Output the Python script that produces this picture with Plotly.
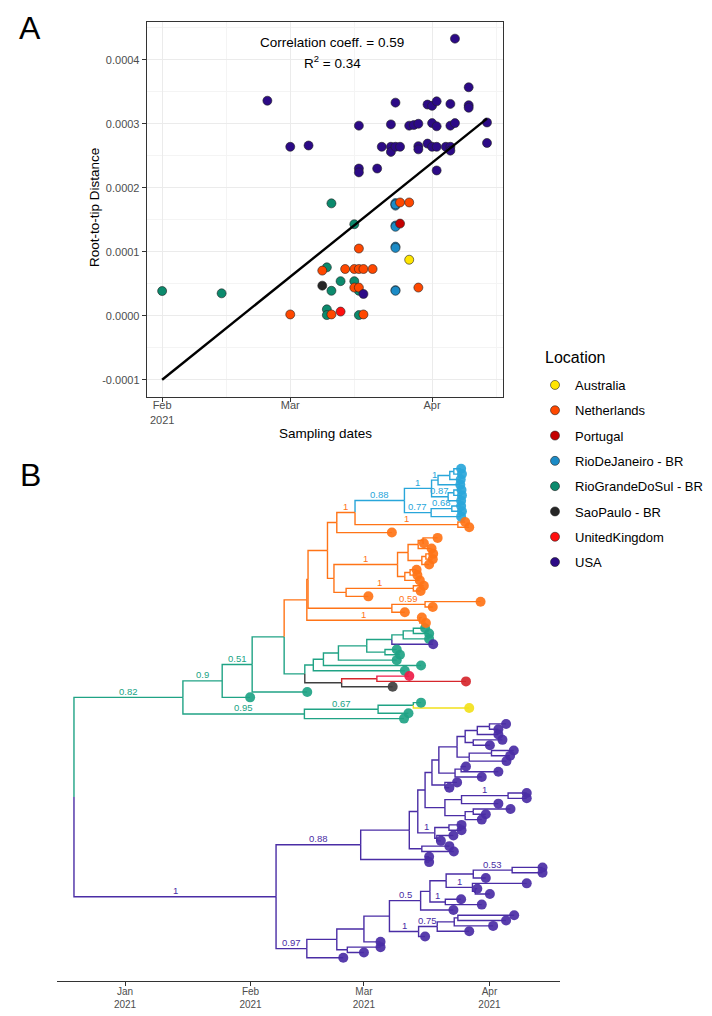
import datetime as dt
import plotly.graph_objects as go

# ---------------- Panel A: root-to-tip regression data ----------------
loc_names = ["Australia", "Netherlands", "Portugal", "RioDeJaneiro - BR",
             "RioGrandeDoSul - BR", "SaoPaulo - BR", "UnitedKingdom", "USA"]
loc_codes = ["A", "N", "P", "R", "G", "S", "K", "U"]
point_colors = ["#FFE500", "#FF4800", "#C40000", "#1B8BC6",
                "#0C8A6D", "#262626", "#FF0F0F", "#2C0A86"]
tree_colors = ["#F2E11C", "#FF7417", "#D6262C", "#29A6DA",
               "#20A385", "#3F3F3F", "#EE1C48", "#4A2DA5"]

australia_dates = ["2021-03-27"]
australia_dist = [0.0000875]
netherlands_dates = ["2021-03-01", "2021-03-08", "2021-03-10", "2021-03-13", "2021-03-15",
                     "2021-03-15", "2021-03-16", "2021-03-16", "2021-03-16", "2021-03-17",
                     "2021-03-17", "2021-03-19", "2021-03-25", "2021-03-27", "2021-03-29"]
netherlands_dist = [0.000002, 0.0000705, 0.000002, 0.000073, 0.000073,
                    0.000044, 0.000105, 0.000073, 0.000044, 0.000073,
                    0.000002, 0.000073, 0.000177, 0.000177, 0.000044]
portugal_dates = ["2021-03-25"]
portugal_dist = [0.000144]
riodejaneiro_dates = ["2021-03-24"] * 10
riodejaneiro_dist = [0.000176, 0.000174, 0.000172, 0.000141, 0.000139,
                     0.000108, 0.000106, 0.000040, 0.000039, 0.000174]
riograndedosul_dates = ["2021-02-01", "2021-02-14", "2021-03-10", "2021-03-15", "2021-03-09",
                        "2021-03-10", "2021-03-12", "2021-03-15", "2021-03-16", "2021-03-09",
                        "2021-03-09", "2021-03-16"]
riograndedosul_dist = [0.0000386, 0.000035, 0.0001756, 0.000143, 0.0000756,
                       0.000039, 0.000054, 0.000054, 0.000039, 0.00001,
                       0.000001, 0.000001]
saopaulo_dates = ["2021-03-08"]
saopaulo_dist = [0.000047]
uk_dates = ["2021-03-12"]
uk_dist = [0.0000065]
usa_dates = ["2021-02-24", "2021-03-01", "2021-03-05", "2021-03-16", "2021-03-16", "2021-03-16",
             "2021-03-17", "2021-03-20", "2021-03-21", "2021-03-23", "2021-03-23", "2021-03-23",
             "2021-03-24", "2021-03-24", "2021-03-25", "2021-03-27", "2021-03-28", "2021-03-29",
             "2021-03-29", "2021-03-29", "2021-03-31", "2021-03-31", "2021-04-01", "2021-04-01",
             "2021-04-01", "2021-04-02", "2021-04-02", "2021-04-02", "2021-04-02", "2021-04-04",
             "2021-04-05", "2021-04-05", "2021-04-05", "2021-04-05", "2021-04-06", "2021-04-06",
             "2021-04-09", "2021-04-09", "2021-04-09", "2021-04-13", "2021-04-13"]
usa_dist = [0.000336, 0.000264, 0.000266, 0.000297, 0.000230, 0.000224,
            0.000034, 0.000230, 0.000264, 0.000264, 0.000256, 0.000299,
            0.000333, 0.000264, 0.000264, 0.000297, 0.000298, 0.000300,
            0.000265, 0.000260, 0.000330, 0.000269, 0.000301, 0.000328,
            0.000264, 0.000335, 0.000296, 0.000264, 0.000227, 0.000264,
            0.000331, 0.000297, 0.000264, 0.000258, 0.000433, 0.000301,
            0.000357, 0.000329, 0.000325, 0.000302, 0.000270]

# regression line end points
line_dates = ["2021-02-01", "2021-04-13"]
line_dist = [-0.0001, 0.000308]
corr_text = "Correlation coeff. = 0.59"
r2_text = "R<sup>2</sup> = 0.34"

y_tickvals = [-0.0001, 0.0, 0.0001, 0.0002, 0.0003, 0.0004]
y_ticktext = ["-0.0001", "0.0000", "0.0001", "0.0002", "0.0003", "0.0004"]

# ---------------- Panel B: time-scaled tree ----------------
# node label = LOCATIONCODE@days-since-2021-01-01[#support]
B1a = "(((R@83.0,R@83.2)R@81.2,R@82.9)R@80.2,R@82.8)R@77.3#1"
B1b = "((R@83.1,R@83.2)R@81.2,R@83.0)R@79.8#0.87"
B2 = "((R@83.0,R@83.2)R@80.7#0.68,R@83.0)R@75.6#0.77"
B0 = f"(({B1a},{B1b})R@75.7#1,{B2})R@69.0#0.88"
NP = "(N@84.0,N@85.0)N@82.2#1"
N355 = f"({B0},{NP})N@56.8#1"
N337 = f"({N355},N@65.9)N@52.3"
Nu = "(((N@77.2,N@73.8)N@73.6,N@75.7)N@72.4,((N@76.1,N@76.0)N@74.3,N@75.1)N@73.3)N@69.9"
Nl = "((N@72.0,N@72.2)N@70.4,N@72.8)N@69.1"
N398 = f"({Nu},{Nl})N@67.3#1"
N346 = "((N@73.8,N@73.0)N@71.2#1,N@60.1)N@54.6"
N334 = f"({N398},{N346})N@51.6"
Uc = f"({N337},{N334})N@50.0"
N392 = "((N@87.8,N@76.0)N@74.1#0.59,N@69.1)N@65.9"
C1 = f"({Uc},{N392})N@45.2"
N1c = "(N@73.3,N@74.3)N@72.8#1"
OR = f"({C1},{N1c})N@44.9"
T7 = "(G@74.1,G@75.1)G@71.2"
T6 = f"({T7},G@75.1)G@68.7"
T5 = f"({T6},U@76.1)G@65.9"
T8 = "(G@67.1,G@67.9)G@64.2"
T4 = f"({T5},{T8})G@59.7"
T3 = f"({T4},G@67.1)G@52.7"
T2 = f"({T3},G@73.1)G@49.0"
T1 = f"({T2},G@69.1)G@46.5"
T9 = "((K@70.2,P@84.2)P@62.2,S@66.1)S@53.5"
TT = f"({T1},{T9})G@44.4"
N284 = f"({OR},{TT})G@39.3"
N51 = f"({N284},G@45.0)G@31.4#0.51"
N9 = f"({N51},G@30.9)G@24.0#0.9"
N67 = "((G@73.1,A@85.0)G@71.2,G@70.0)G@62.5#0.67"
N95 = f"({N67},G@68.9)G@44.3#0.95"
TOP = f"({N9},{N95})G@14.3#0.82"

A1h = "((((U@94.1,U@92.2)U@90.0,U@92.2)U@87.0,(U@93.2,U@90.1)U@86.0)U@84.0,((U@96.0,U@95.1)U@90.5,U@94.2)U@85.0)U@82.0"
A1i = "((U@84.2,U@92.2)U@83.0,U@88.1)U@81.5"
A1g = f"({A1h},{A1i})U@77.5"
A1c = f"({A1g},(U@82.0,U@80.1)U@79.0)U@75.8"
A1d = "(((U@99.2,U@99.2)U@94.6#1,U@92.2)U@83.1,((U@95.2,U@89.1)U@86.0,U@88.1)U@84.0)U@79.0"
A1a = f"({A1c},{A1d})U@74.1"
A1b = "((U@83.1,U@83.1)U@80.0,(U@81.1,U@78.0)U@77.0)U@76.5#1"
A1 = f"({A1a},{A1b})U@72.3"
A2 = "(U@80.1,U@81.2)U@73.3"
Aa = f"({A1},{A2})U@70.2"
Bp = "(U@75.1,U@75.1)U@74.3"
U88 = f"({Aa},{Bp})U@58.2#0.88"
N473 = "((U@103.1,U@103.1)U@95.6#0.53,U@89.1)U@86.0"
N1x = "(U@99.2,(U@87.0,U@90.1)U@86.5)U@85.8#1"
N446 = f"({N473},{N1x})U@79.3"
N1a = "(U@83.0,U@88.1)U@79.1#1"
N430 = f"({N446},{N1a})U@75.3"
N05 = f"({N430},U@81.1)U@73.0#0.5"
N075 = "(((U@96.1,U@94.1)U@82.2,U@90.9)U@81.3,U@85.0)U@77.1#0.75"
N1b = f"({N075},U@74.1)U@72.5#1"
Nd = f"({N05},{N1b})U@65.3"
Nb = f"({Nd},U@63.1)U@59.0"
Nc = "(U@63.1,U@59.0)U@54.9"
Na = f"({Nb},{Nc})U@52.3"
U97 = f"({Na},U@53.9)U@44.9#0.97"
USA = f"({U88},{U97})U@37.3#1"
tree_newick = f"({TOP},{USA})G@-12.6"

tree_tick_dates = ["2021-01-01", "2021-02-01", "2021-03-01", "2021-04-01"]

# ---------------- helpers ----------------
FONT = "Liberation Sans, Arial, sans-serif"
BASE = dt.datetime(2021, 1, 1)


def to_date(d):
    return BASE + dt.timedelta(days=d)


def parse(s):
    pos = 0

    def node():
        nonlocal pos
        kids = []
        if s[pos] == "(":
            pos += 1
            kids.append(node())
            while s[pos] == ",":
                pos += 1
                kids.append(node())
            pos += 1  # ')'
        start = pos
        while pos < len(s) and s[pos] not in ",()":
            pos += 1
        lab = s[start:pos]
        code, rest = lab.split("@")
        sup = None
        if "#" in rest:
            rest, sup = rest.split("#")
        return {"code": code, "day": float(rest), "sup": sup, "kids": kids}

    return node()


root = parse(tree_newick)
tip_counter = [0]


def layout(n):
    if not n["kids"]:
        n["y"] = tip_counter[0]
        tip_counter[0] += 1
    else:
        for k in n["kids"]:
            layout(k)
        n["y"] = sum(k["y"] for k in n["kids"]) / len(n["kids"])


layout(root)

seg = {c: ([], []) for c in loc_codes}
tips = {c: ([], []) for c in loc_codes}
labels = []


def walk(n, parent):
    if parent is not None:
        xs, ys = seg[n["code"]]
        px, py = to_date(parent["day"]), parent["y"]
        xs += [px, px, to_date(n["day"]), None]
        ys += [py, n["y"], n["y"], None]
        if n["sup"]:
            labels.append((to_date((parent["day"] + n["day"]) / 2), n["y"], n["sup"], n["code"]))
    if not n["kids"]:
        tips[n["code"]][0].append(to_date(n["day"]))
        tips[n["code"]][1].append(n["y"])
    for k in n["kids"]:
        walk(k, n)


walk(root, None)

# ---------------- figure ----------------
fig = go.Figure()

scatter_data = {
    "A": (australia_dates, australia_dist),
    "N": (netherlands_dates, netherlands_dist),
    "P": (portugal_dates, portugal_dist),
    "R": (riodejaneiro_dates, riodejaneiro_dist),
    "G": (riograndedosul_dates, riograndedosul_dist),
    "S": (saopaulo_dates, saopaulo_dist),
    "K": (uk_dates, uk_dist),
    "U": (usa_dates, usa_dist),
}
draw_order = ["G", "S", "R", "N", "P", "K", "A", "U"]
for c in draw_order:
    i = loc_codes.index(c)
    xs, ys = scatter_data[c]
    fig.add_trace(go.Scatter(
        x=xs, y=ys, mode="markers", name=loc_names[i], legendrank=i + 1,
        legendgroup=c,
        marker=dict(size=9, color=point_colors[i], line=dict(width=0.6, color="#222222")),
        xaxis="x", yaxis="y"))

fig.add_trace(go.Scatter(x=line_dates, y=line_dist, mode="lines", showlegend=False,
                         line=dict(color="black", width=2.4), xaxis="x", yaxis="y"))

for c in draw_order:
    i = loc_codes.index(c)
    xs, ys = seg[c]
    if xs:
        fig.add_trace(go.Scatter(x=xs, y=ys, mode="lines", showlegend=False,
                                 line=dict(color=tree_colors[i], width=1.4),
                                 xaxis="x2", yaxis="y2", hoverinfo="skip"))
for c in draw_order:
    i = loc_codes.index(c)
    xs, ys = tips[c]
    if xs:
        fig.add_trace(go.Scatter(x=xs, y=ys, mode="markers", showlegend=False,
                                 marker=dict(size=10, color=tree_colors[i], opacity=0.92),
                                 xaxis="x2", yaxis="y2"))


def paper_text(txt, px, py, size, angle=0, anchor="center"):
    return dict(text=txt, x=px / 712, y=1 - py / 1016, xref="paper", yref="paper",
                xanchor=anchor, yanchor="middle", textangle=angle, showarrow=False,
                font=dict(size=size, color="black", family=FONT))


annotations = [
    paper_text("A", 30, 28, 32),
    paper_text("B", 30, 475, 32),
    paper_text(corr_text, 332, 42, 13.5),
    paper_text(r2_text, 332, 62, 13.5),
    paper_text("Root-to-tip Distance", 95, 208, 13.5, angle=-90),
    paper_text("Sampling dates", 325, 433, 13.5),
    paper_text("Location", 543, 357, 16, anchor="left"),
]
for (lx, ly, txt, c) in labels:
    i = loc_codes.index(c)
    annotations.append(dict(text=txt, x=lx, y=ly, xref="x2", yref="y2", showarrow=False,
                            xanchor="center", yanchor="middle",
                            yshift=6, font=dict(size=9.5, color=tree_colors[i], family=FONT)))

axis_common = dict(ticks="outside", ticklen=4, tickwidth=1, tickcolor="#333333",
                   tickfont=dict(size=11, color="#4D4D4D", family=FONT))

fig.update_layout(
    width=712, height=1016, margin=dict(l=0, r=0, t=0, b=0),
    paper_bgcolor="white", plot_bgcolor="white",
    font=dict(family=FONT),
    xaxis=dict(domain=[146.7 / 712, 503 / 712], anchor="y", type="date",
               range=["2021-01-28 15:00", "2021-04-16 12:00"],
               tick0="2021-01-01", dtick="M1", tickformat="%b\n%Y",
               ticklabelstandoff=-6,
               showline=True, mirror=True, linecolor="#333333", linewidth=1,
               showgrid=True, gridcolor="#EBEBEB", gridwidth=1, zeroline=False,
               minor=dict(tick0="2021-01-15", dtick="M1", showgrid=True,
                          gridcolor="#F4F4F4", gridwidth=0.6, ticks=""),
               **axis_common),
    yaxis=dict(domain=[1 - 397 / 1016, 1 - 22 / 1016], anchor="x",
               range=[-0.000127, 0.000459],
               tickvals=y_tickvals, ticktext=y_ticktext,
               showline=True, mirror=True, linecolor="#333333", linewidth=1,
               showgrid=True, gridcolor="#EBEBEB", gridwidth=1, zeroline=False,
               minor=dict(dtick=0.00005, tick0=0, showgrid=True,
                          gridcolor="#F4F4F4", gridwidth=0.6, ticks=""),
               **axis_common),
    xaxis2=dict(domain=[57 / 712, 560 / 712], anchor="y2", type="date",
                range=["2020-12-15 05:00", "2021-04-18 10:00"],
                tickvals=tree_tick_dates, tickformat="%b\n%Y",
                ticklabelstandoff=-3,
                showline=True, linecolor="#333333", linewidth=1,
                showgrid=False, zeroline=False,
                ticks="outside", ticklen=4, tickwidth=1, tickcolor="#333333",
                tickfont=dict(size=10, color="#4D4D4D", family=FONT)),
    yaxis2=dict(domain=[1 - 981 / 1016, 1 - 460 / 1016], anchor="x2",
                range=[96.37, -1.656], visible=False),
    legend=dict(x=535 / 712, y=1 - 370 / 1016, xanchor="left", yanchor="top",
                font=dict(size=13, color="black", family=FONT),
                tracegroupgap=5.4, bgcolor="rgba(0,0,0,0)", itemclick=False),
    annotations=annotations,
)

fig.write_html("out.html", config={"displayModeBar": False},
               post_script="document.body.style.margin='0px';")
